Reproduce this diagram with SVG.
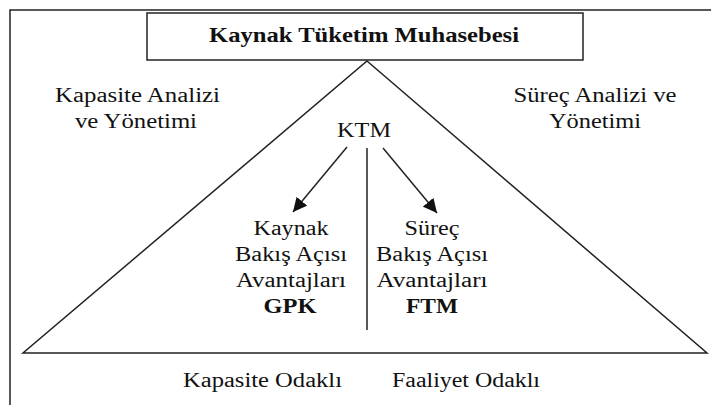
<svg xmlns="http://www.w3.org/2000/svg" width="711" height="405" viewBox="0 0 711 405">
<style>
text{font-family:"Liberation Serif","Times New Roman",serif;font-size:20px;fill:#111;text-anchor:middle}
.b{font-weight:bold;font-size:21px}
.ln{stroke:#222;stroke-width:1.5;fill:none}
</style>
<defs>
<marker id="ah" viewBox="0 0 10 10" refX="10" refY="5" markerWidth="14" markerHeight="14" markerUnits="userSpaceOnUse" orient="auto">
<path d="M0,0 L10,5 L0,10 z" fill="#111"/>
</marker>
</defs>
<rect width="711" height="405" fill="#fff"/>
<g id="frame"><path class="ln" d="M10,405 V10 H711" stroke="#444"/></g>
<g id="title">
<rect class="ln" x="147" y="13" width="436" height="47"/>
<text class="b" x="364" y="42" textLength="310" lengthAdjust="spacingAndGlyphs">Kaynak Tüketim Muhasebesi</text>
</g>
<g id="triangle"><polygon class="ln" points="367,61 707,353 23,353"/></g>
<g id="capacity-analysis">
<text x="137.5" y="102" textLength="165" lengthAdjust="spacingAndGlyphs">Kapasite Analizi</text>
<text x="136" y="128" textLength="122" lengthAdjust="spacingAndGlyphs">ve Yönetimi</text>
</g>
<g id="process-analysis">
<text x="595" y="102" textLength="163" lengthAdjust="spacingAndGlyphs">Süreç Analizi ve</text>
<text x="595" y="128" textLength="92" lengthAdjust="spacingAndGlyphs">Yönetimi</text>
</g>
<g id="ktm"><text x="364" y="137" textLength="54" lengthAdjust="spacingAndGlyphs">KTM</text></g>
<g id="gpk">
<text x="291" y="235" textLength="75" lengthAdjust="spacingAndGlyphs">Kaynak</text>
<text x="291" y="261" textLength="112" lengthAdjust="spacingAndGlyphs">Bakış Açısı</text>
<text x="291" y="287" textLength="110" lengthAdjust="spacingAndGlyphs">Avantajları</text>
<text class="b" x="290" y="313" textLength="53" lengthAdjust="spacingAndGlyphs">GPK</text>
</g>
<g id="ftm">
<text x="432" y="235" textLength="55" lengthAdjust="spacingAndGlyphs">Süreç</text>
<text x="432" y="261" textLength="112" lengthAdjust="spacingAndGlyphs">Bakış Açısı</text>
<text x="432" y="287" textLength="111" lengthAdjust="spacingAndGlyphs">Avantajları</text>
<text class="b" x="432" y="313" textLength="52" lengthAdjust="spacingAndGlyphs">FTM</text>
</g>
<g id="bottom-labels">
<text x="262.5" y="387" textLength="159" lengthAdjust="spacingAndGlyphs">Kapasite Odaklı</text>
<text x="466" y="387" textLength="148" lengthAdjust="spacingAndGlyphs">Faaliyet Odaklı</text>
</g>
<g id="connectors">
<line class="ln" x1="367" y1="148" x2="367" y2="330"/>
<line class="ln" x1="347" y1="147" x2="293" y2="212" marker-end="url(#ah)"/>
<line class="ln" x1="383" y1="148" x2="437" y2="213" marker-end="url(#ah)"/>
</g>
</svg>
